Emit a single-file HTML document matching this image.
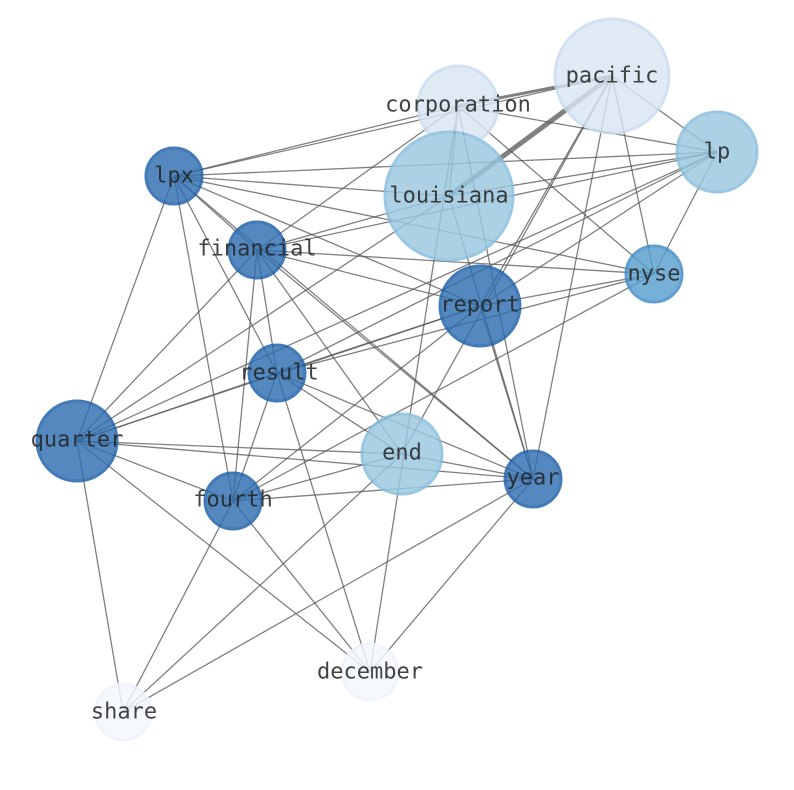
<!DOCTYPE html>
<html><head><meta charset="utf-8"><style>html,body{margin:0;padding:0;background:#fff;}svg{display:block}</style></head>
<body>
<svg width="794" height="790" viewBox="0 0 794 790" xmlns="http://www.w3.org/2000/svg">
<g stroke="#555" stroke-opacity="0.75" stroke-width="1.3" fill="none">
<line x1="612" y1="76" x2="717" y2="152"/>
<line x1="612" y1="76" x2="654" y2="274"/>
<line x1="612" y1="76" x2="480" y2="306"/>
<line x1="612" y1="76" x2="533" y2="479"/>
<line x1="612" y1="76" x2="402" y2="454"/>
<line x1="612" y1="76" x2="174" y2="176"/>
<line x1="458" y1="106" x2="174" y2="176"/>
<line x1="458" y1="106" x2="449" y2="196"/>
<line x1="458" y1="106" x2="717" y2="152"/>
<line x1="458" y1="106" x2="654" y2="274"/>
<line x1="458" y1="106" x2="533" y2="479"/>
<line x1="458" y1="106" x2="257" y2="250"/>
<line x1="458" y1="106" x2="370" y2="672"/>
<line x1="717" y1="152" x2="174" y2="176"/>
<line x1="717" y1="152" x2="449" y2="196"/>
<line x1="717" y1="152" x2="257" y2="250"/>
<line x1="717" y1="152" x2="480" y2="306"/>
<line x1="717" y1="152" x2="654" y2="274"/>
<line x1="717" y1="152" x2="77" y2="441"/>
<line x1="717" y1="152" x2="277" y2="373"/>
<line x1="449" y1="196" x2="77" y2="441"/>
<line x1="449" y1="196" x2="533" y2="479"/>
<line x1="449" y1="196" x2="257" y2="250"/>
<line x1="449" y1="196" x2="174" y2="176"/>
<line x1="174" y1="176" x2="257" y2="250"/>
<line x1="174" y1="176" x2="654" y2="274"/>
<line x1="174" y1="176" x2="480" y2="306"/>
<line x1="174" y1="176" x2="277" y2="373"/>
<line x1="174" y1="176" x2="233" y2="501"/>
<line x1="174" y1="176" x2="77" y2="441"/>
<line x1="174" y1="176" x2="533" y2="479"/>
<line x1="257" y1="250" x2="654" y2="274"/>
<line x1="257" y1="250" x2="480" y2="306"/>
<line x1="257" y1="250" x2="277" y2="373"/>
<line x1="257" y1="250" x2="402" y2="454"/>
<line x1="257" y1="250" x2="533" y2="479"/>
<line x1="257" y1="250" x2="233" y2="501"/>
<line x1="257" y1="250" x2="77" y2="441"/>
<line x1="654" y1="274" x2="480" y2="306"/>
<line x1="654" y1="274" x2="277" y2="373"/>
<line x1="654" y1="274" x2="233" y2="501"/>
<line x1="480" y1="306" x2="277" y2="373"/>
<line x1="480" y1="306" x2="533" y2="479"/>
<line x1="480" y1="306" x2="77" y2="441"/>
<line x1="480" y1="306" x2="233" y2="501"/>
<line x1="277" y1="373" x2="77" y2="441"/>
<line x1="277" y1="373" x2="402" y2="454"/>
<line x1="277" y1="373" x2="533" y2="479"/>
<line x1="277" y1="373" x2="233" y2="501"/>
<line x1="277" y1="373" x2="370" y2="672"/>
<line x1="77" y1="441" x2="402" y2="454"/>
<line x1="77" y1="441" x2="533" y2="479"/>
<line x1="77" y1="441" x2="233" y2="501"/>
<line x1="77" y1="441" x2="123" y2="712"/>
<line x1="77" y1="441" x2="370" y2="672"/>
<line x1="402" y1="454" x2="533" y2="479"/>
<line x1="402" y1="454" x2="233" y2="501"/>
<line x1="402" y1="454" x2="123" y2="712"/>
<line x1="533" y1="479" x2="233" y2="501"/>
<line x1="533" y1="479" x2="123" y2="712"/>
<line x1="533" y1="479" x2="370" y2="672"/>
<line x1="233" y1="501" x2="123" y2="712"/>
<line x1="233" y1="501" x2="370" y2="672"/>
<line x1="612" y1="76" x2="458" y2="106" stroke-width="3"/>
<line x1="612" y1="76" x2="449" y2="196" stroke-width="5"/>
</g>
<g stroke-width="3" opacity="0.82">
<circle cx="612" cy="76" r="57" fill="#d9e6f4" stroke="#c9dbef"/>
<circle cx="458" cy="106" r="40" fill="#d9e6f4" stroke="#c9dbef"/>
<circle cx="717" cy="152" r="40" fill="#9ac8e0" stroke="#85bcdc"/>
<circle cx="449" cy="196" r="64" fill="#9ac8e0" stroke="#85bcdc"/>
<circle cx="174" cy="176" r="28" fill="#2f6fb0" stroke="#1c5fa8"/>
<circle cx="257" cy="250" r="28" fill="#2f6fb0" stroke="#1c5fa8"/>
<circle cx="654" cy="274" r="28" fill="#5a9fcf" stroke="#3f8ac6"/>
<circle cx="480" cy="306" r="40" fill="#2f6fb0" stroke="#1c5fa8"/>
<circle cx="277" cy="373" r="28" fill="#2f6fb0" stroke="#1c5fa8"/>
<circle cx="77" cy="441" r="40" fill="#2f6fb0" stroke="#1c5fa8"/>
<circle cx="402" cy="454" r="40" fill="#9ac8e0" stroke="#85bcdc"/>
<circle cx="533" cy="479" r="28" fill="#2f6fb0" stroke="#1c5fa8"/>
<circle cx="233" cy="501" r="28" fill="#2f6fb0" stroke="#1c5fa8"/>
<circle cx="370" cy="672" r="28" fill="#f4f8fd" stroke="#eef4fb"/>
<circle cx="123" cy="712" r="28" fill="#f4f8fd" stroke="#eef4fb"/>
</g>
<g font-family="'DejaVu Sans Mono','Liberation Mono',monospace" font-size="22" fill="#222" fill-opacity="0.85" text-anchor="middle" dominant-baseline="central">
<text x="612" y="76">pacific</text>
<text x="458" y="105">corporation</text>
<text x="717" y="152">lp</text>
<text x="449" y="196">louisiana</text>
<text x="174" y="176">lpx</text>
<text x="257" y="249">financial</text>
<text x="654" y="274">nyse</text>
<text x="480" y="305">report</text>
<text x="279" y="373">result</text>
<text x="77" y="440">quarter</text>
<text x="402" y="453">end</text>
<text x="533" y="478">year</text>
<text x="233" y="500">fourth</text>
<text x="370" y="672">december</text>
<text x="124" y="712">share</text>
</g>
</svg>
</body></html>
